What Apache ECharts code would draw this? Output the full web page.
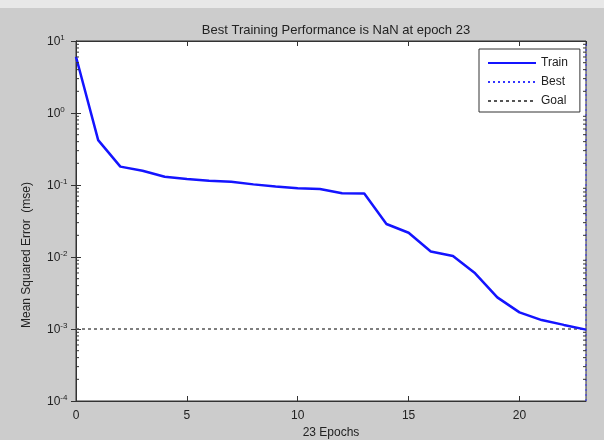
<!DOCTYPE html>
<html>
<head>
<meta charset="utf-8">
<script src="https://cdn.jsdelivr.net/npm/echarts@6/dist/echarts.min.js"></script>
<style>
html,body{margin:0;padding:0;background:#cccccc;}
#chart{width:604px;height:440px;}
</style>
</head>
<body>
<div id="chart"></div>
<script>
// ---- data ----
var epochs = [0,1,2,3,4,5,6,7,8,9,10,11,12,13,14,15,16,17,18,19,20,21,22,23];
var trainMse = [6.05, 0.42, 0.18, 0.158, 0.130, 0.121, 0.115, 0.111, 0.102, 0.095, 0.090, 0.088,
                0.077, 0.076, 0.0287, 0.0217, 0.0119, 0.0103, 0.00594, 0.00275, 0.0017, 0.00133, 0.00114, 0.00098];
var goalValue = 0.001;
var bestEpoch = 23;
var xTickLabels = [0, 5, 10, 15, 20];
var yDecadeExponents = [-4, -3, -2, -1, 0, 1];
var minorMantissas = [2, 3, 4, 5, 6, 7, 8, 9];
var titleText = 'Best Training Performance is NaN at epoch 23';
var xName = '23 Epochs';
var yName = 'Mean Squared Error  (mse)';

var trainData = epochs.map(function (e, i) { return [e, trainMse[i]]; });
var goalData = [[0, goalValue], [23, goalValue]];
var bestData = [[bestEpoch, 1e-4], [bestEpoch, 10]];
var minorData = [];
yDecadeExponents.slice(0, -1).forEach(function (p) {
  minorMantissas.forEach(function (m) { minorData.push([0, m * Math.pow(10, p)]); });
});

var chart = echarts.init(document.getElementById('chart'), null, {renderer: 'canvas'});
var FONT = 'Liberation Sans';

var option = {
  backgroundColor: '#cccccc',
  animation: false,
  graphic: [{ type: 'rect', shape: {x: 0, y: 0, width: 604, height: 8}, style: {fill: '#e8e8e8'}, z: -1, silent: true }],
  title: {
    text: titleText, left: 331, top: 19, textAlign: 'center',
    textStyle: {fontFamily: FONT, fontSize: 13, fontWeight: 'normal', color: '#222'}
  },
  legend: {
    data: ['Train', 'Best', 'Goal'],
    orient: 'vertical', left: 479, top: 49,
    itemWidth: 48, itemHeight: 14, itemGap: 7,
    padding: [8, 12, 5, 8],
    itemStyle: {opacity: 0},
    backgroundColor: '#ffffff', borderColor: '#333', borderWidth: 1,
    textStyle: {fontFamily: FONT, fontSize: 12, color: '#222'},
    selectedMode: false
  },
  grid: {
    left: 76, right: 18, top: 41, bottom: 39,
    outerBoundsMode: 'none', containLabel: false,
    show: true, backgroundColor: '#ffffff', borderColor: '#333', borderWidth: 1
  },
  xAxis: [{
    type: 'value', min: 0, max: 23, interval: 5,
    name: xName, nameLocation: 'middle', nameGap: 25,
    nameTextStyle: {fontFamily: FONT, fontSize: 12, color: '#222'},
    axisLine: {show: true, lineStyle: {color: '#333'}},
    axisTick: {show: true, inside: true, length: 5, lineStyle: {color: '#333'}},
    axisLabel: {show: true, margin: 9, showMaxLabel: false, fontFamily: FONT, fontSize: 12, color: '#222',
      formatter: function (v) { return xTickLabels.indexOf(v) >= 0 ? String(v) : ''; }},
    splitLine: {show: false}
  }, {
    type: 'value', min: 0, max: 23, interval: 5, position: 'top',
    axisLine: {show: true, lineStyle: {color: '#333'}},
    axisTick: {show: true, inside: true, length: 5, lineStyle: {color: '#333'}},
    axisLabel: {show: false}, splitLine: {show: false}
  }],
  yAxis: [{
    type: 'log', logBase: 10, min: 1e-4, max: 10, interval: 1,
    name: yName, nameLocation: 'middle', nameGap: 43,
    nameTextStyle: {fontFamily: FONT, fontSize: 12, color: '#222', padding: [0, 68, 0, 0]},
    axisLine: {show: true, lineStyle: {color: '#333'}},
    axisTick: {show: true, inside: true, length: 5, lineStyle: {color: '#333'}},
    axisLabel: {
      show: true, margin: 29, align: 'left',
      formatter: function (v) {
        var p = Math.round(Math.log(v) / Math.LN10);
        return '{b|10}{s|' + p + '}';
      },
      rich: {
        b: {fontFamily: FONT, fontSize: 12, color: '#222', verticalAlign: 'bottom'},
        s: {fontFamily: FONT, fontSize: 8, color: '#222', verticalAlign: 'top', padding: [0, 0, 6, 0]}
      }
    },
    splitLine: {show: false}
  }, {
    type: 'log', logBase: 10, min: 1e-4, max: 10, interval: 1, position: 'right',
    axisLine: {show: true, lineStyle: {color: '#333'}},
    axisTick: {show: true, inside: true, length: 5, lineStyle: {color: '#333'}},
    axisLabel: {show: false}, splitLine: {show: false}
  }],
  series: [{
    name: 'Train', type: 'line', data: trainData,
    showSymbol: false, symbol: 'none', color: '#1414ff',
    lineStyle: {color: '#1414ff', width: 2.5}, z: 5
  }, {
    name: 'Best', type: 'line', data: bestData,
    showSymbol: false, symbol: 'none', color: '#3333ff',
    lineStyle: {color: '#3333ff', width: 1, type: [2, 3]}, z: 4
  }, {
    name: 'Goal', type: 'line', data: goalData,
    showSymbol: false, symbol: 'none', color: '#555',
    lineStyle: {color: '#555', width: 1.3, type: [3, 3]}, z: 4
  }, {
    name: 'minor', type: 'custom', data: minorData, silent: true, clip: false, z: 6,
    renderItem: function (params, api) {
      var v = api.value(1);
      var l = api.coord([0, v]);
      var r = api.coord([23, v]);
      return {
        type: 'group',
        children: [
          {type: 'line', shape: {x1: l[0], y1: l[1], x2: l[0] + 3, y2: l[1]}, style: {stroke: '#333', lineWidth: 1}},
          {type: 'line', shape: {x1: r[0], y1: r[1], x2: r[0] - 3, y2: r[1]}, style: {stroke: '#333', lineWidth: 1}}
        ]
      };
    }
  }]
};
chart.setOption(option);
</script>
</body>
</html>
